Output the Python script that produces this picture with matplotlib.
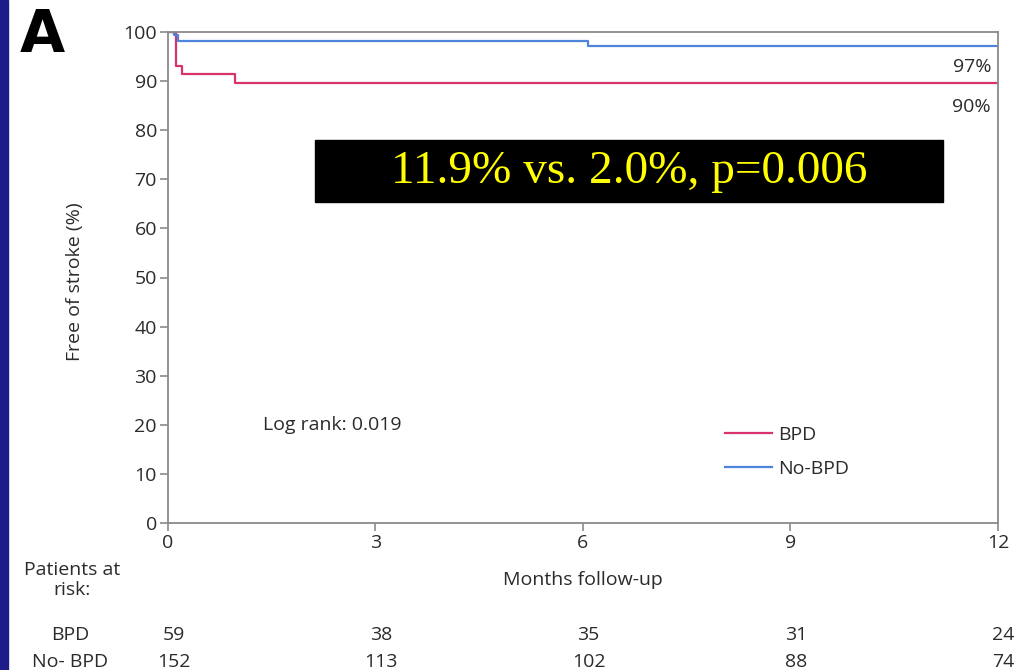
import matplotlib.pyplot as plt
from matplotlib.patches import Rectangle
from matplotlib.transforms import blended_transform_factory

# Kaplan-Meier steps
months_bpd = [0, 0.12, 0.2, 0.97, 12]
surv_bpd = [100, 93.1, 91.5, 89.6, 89.6]
months_nobpd = [0, 0.08, 0.15, 6.07, 12]
surv_nobpd = [100, 99.3, 98.1, 97.1, 97.1]

risk_times = [0, 3, 6, 9, 12]
risk_bpd = [59, 38, 35, 31, 24]
risk_nobpd = [152, 113, 102, 88, 74]

final_labels = ['97%', '90%']
stat_text = '11.9% vs. 2.0%, p=0.006'

plt.rcParams['font.family'] = ['Open Sans', 'DejaVu Sans']
fs = 14

fig = plt.figure(figsize=(10.2, 6.7), dpi=100)
ax = fig.add_axes([168/1020, 1 - 523/670, 830/1020, 491/670])

red = '#d8336e'
blue = '#4f84dc'
grey = '#8a8a8a'
txt = '#2b2b2b'

ax.step(months_bpd, surv_bpd, where='post', color=red, lw=1.6, label='BPD')
ax.step(months_nobpd, surv_nobpd, where='post', color=blue, lw=1.6,
        label='No-BPD')

ax.set_xlim(0, 12)
ax.set_ylim(0, 100)
ax.set_xticks(risk_times)
ax.set_yticks(range(0, 101, 10))
for s in ax.spines.values():
    s.set_color(grey)
    s.set_linewidth(1.3)
ax.tick_params(colors=grey, labelcolor=txt, labelsize=fs, length=6,
               width=1.2, pad=2)

ax.text(11.9, 92.9, final_labels[0], ha='right', va='center', fontsize=fs,
        color=txt)
ax.text(11.9, 84.7, final_labels[1], ha='right', va='center', fontsize=fs,
        color=txt)
ax.text(1.38, 20.0, 'Log rank: 0.019', ha='left', va='center', fontsize=fs,
        color=txt)

ax.legend(loc='upper left', bbox_to_anchor=(708/1020, 1 - 408/670),
          bbox_transform=fig.transFigure, frameon=False, fontsize=fs,
          handlelength=2.4, handletextpad=0.3, labelspacing=0.85,
          labelcolor=txt)

# stat box
fig.patches.append(Rectangle((315/1020, 1 - 202/670), 628/1020, 62/670,
                             transform=fig.transFigure, color='black',
                             zorder=5))
fig.text(629/1020, 1 - 172/670, stat_text, ha='center', va='center',
         fontsize=34, color='#ffff00', family='Liberation Serif', zorder=6)

fig.text(75/1020, 1 - 282/670, 'Free of stroke (%)', rotation=90,
         ha='center', va='center', fontsize=fs, color=txt)
fig.text(583/1020, 1 - 580/670, 'Months follow-up', ha='center',
         va='center', fontsize=fs, color=txt)
fig.text(42/1020, 1 - 36/670, 'A', ha='center', va='center', fontsize=42,
         fontweight='bold', family='DejaVu Sans', color='black')

# patients at risk
fig.text(72/1020, 1 - 580/670, 'Patients at\nrisk:', ha='center',
         va='center', fontsize=fs, color=txt, linespacing=1.2)
fig.text(70/1020, 1 - 635/670, 'BPD', ha='center', va='center',
         fontsize=fs, color=txt)
fig.text(70/1020, 1 - 662/670, 'No- BPD', ha='center', va='center',
         fontsize=fs, color=txt)
tr = blended_transform_factory(ax.transData, fig.transFigure)
for t, a, b in zip(risk_times, risk_bpd, risk_nobpd):
    ax.text(t + 0.08, 1 - 635/670, str(a), transform=tr, ha='center',
            va='center', fontsize=fs, color=txt, clip_on=False)
    ax.text(t + 0.08, 1 - 662/670, str(b), transform=tr, ha='center',
            va='center', fontsize=fs, color=txt, clip_on=False)

# navy edge on the left
fig.patches.append(Rectangle((0, 0), 8/1020, 1, transform=fig.transFigure,
                             color='#1c1c8a', zorder=10))

fig.savefig('out.png', dpi=100)
